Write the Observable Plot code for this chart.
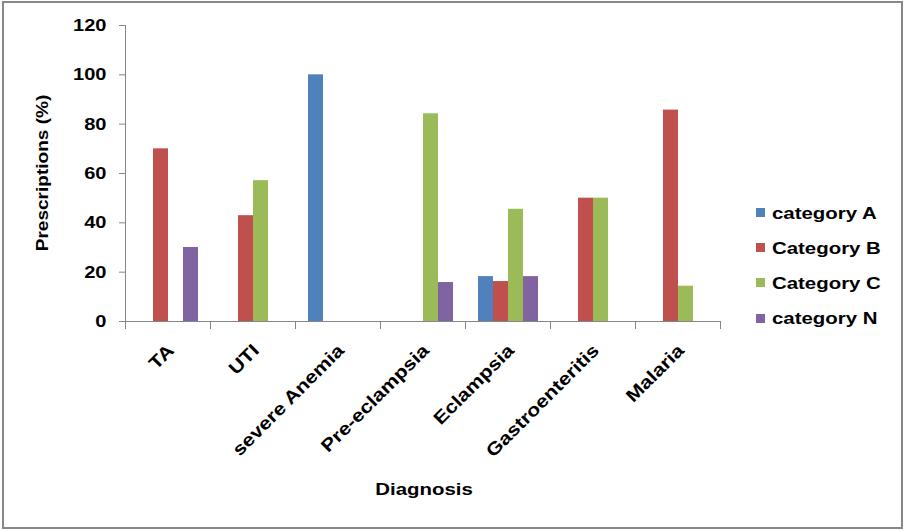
<!DOCTYPE html>
<html>
<head>
<meta charset="utf-8">
<script src="https://cdn.jsdelivr.net/npm/d3@7"></script>
<script src="https://cdn.jsdelivr.net/npm/@observablehq/plot@0.6"></script>
<style>
  html, body { margin: 0; padding: 0; background: #fff; }
  #wrap { position: relative; width: 906px; height: 531px; overflow: hidden;
          font-family: "Liberation Sans", Arial, sans-serif; font-weight: bold; color: #000; }
  #border { position: absolute; left: 2px; top: 1px; width: 897px; height: 524px; border: 2px solid #888; }
  #chart { position: absolute; left: 0; top: 0; }
  .t { position: absolute; white-space: nowrap; font-size: 17px; line-height: 20px; }
  .sw { position: absolute; width: 9px; height: 9px; }
</style>
</head>
<body>
<div id="wrap">
  <div id="border"></div>
  <div id="chart"></div>
  <div class="t" id="ytitle" style="left:43px;top:173px;transform:translate(-50%,-50%) rotate(-90deg) scaleX(1.12);">Prescriptions (%)</div>
  <div class="t" id="xtitle" style="left:423.5px;top:490px;transform:translate(-50%,-50%) scaleX(1.2);">Diagnosis</div>
  <div id="legend"></div>
</div>
<script>
const categories = ["TA", "UTI", "severe Anemia", "Pre-eclampsia", "Eclampsia", "Gastroenteritis", "Malaria"];
const seriesNames = ["category A", "Category B", "Category C", "category N"];
const seriesColors = ["#4F81BD", "#C0504D", "#9BBB59", "#8064A2"];
const categoryA = [0, 0, 100, 0, 18.2, 0, 0];
const categoryB = [70, 42.9, 0, 0, 16.2, 50, 85.7];
const categoryC = [0, 57.1, 0, 84.2, 45.5, 50, 14.3];
const categoryN = [30, 0, 0, 15.8, 18.2, 0, 0];
const yTicks = [0, 20, 40, 60, 80, 100, 120];

const seriesValues = [categoryA, categoryB, categoryC, categoryN];
const rows = categories.flatMap((c, i) =>
  seriesNames.map((s, j) => ({diagnosis: c, series: s, value: seriesValues[j][i]})));

const gray = "#868686";
const chart = Plot.plot({
  width: 906,
  height: 531,
  marginLeft: 122,
  marginRight: 183,
  marginTop: 25,
  marginBottom: 210,
  style: {fontFamily: '"Liberation Sans", Arial, sans-serif', background: "transparent", color: "#000"},
  fx: {domain: categories, padding: 0, axis: null, label: null},
  x: {domain: seriesNames, paddingInner: 0, paddingOuter: 0.683, axis: null, label: null},
  y: {domain: [0, 120], axis: null, label: null},
  color: {domain: seriesNames, range: seriesColors, legend: false},
  marks: [
    Plot.barY(rows, {fx: "diagnosis", x: "series", y: "value", fill: "series"}),
    Plot.ruleY([0], {stroke: gray, strokeWidth: 1}),
    Plot.frame({anchor: "left", stroke: gray, insetTop: 296, insetBottom: -7}),
    Plot.frame({anchor: "right", stroke: gray, insetTop: 296, insetBottom: -7}),
    Plot.frame({anchor: "left", stroke: gray, facet: "super"}),
    Plot.axisY({ticks: yTicks, tickSize: 6, tickPadding: 13, stroke: gray, fill: "#000",
                fontSize: 17, fontWeight: "bold", label: null, tickFormat: d => String(d)}),
    Plot.axisFx({anchor: "bottom", tickSize: 0, tickRotate: -45, tickPadding: 26, dx: 3,
                 fontSize: 18, fontWeight: "bold", fill: "#000", label: null})
  ]
});
// widen the glyphs a little (the reference's bold text renders wide)
chart.querySelectorAll("text").forEach(t => {
  const tr = t.getAttribute("transform") || "";
  t.setAttribute("transform", `${tr} scale(1.18,1)`);
});
document.getElementById("chart").appendChild(chart);

const legend = document.getElementById("legend");
const capCenters = [213.5, 248.7, 283.8, 319];
seriesNames.forEach((s, i) => {
  const sw = document.createElement("div");
  sw.className = "sw";
  sw.style.left = "756px";
  sw.style.top = (capCenters[i] - 5.5) + "px";
  sw.style.background = seriesColors[i];
  legend.appendChild(sw);
  const t = document.createElement("div");
  t.className = "t";
  t.style.left = "772px";
  t.style.top = (capCenters[i] - 10) + "px";
  t.style.transform = "scaleX(1.2)";
  t.style.transformOrigin = "left center";
  t.textContent = s;
  legend.appendChild(t);
});
</script>
</body>
</html>
